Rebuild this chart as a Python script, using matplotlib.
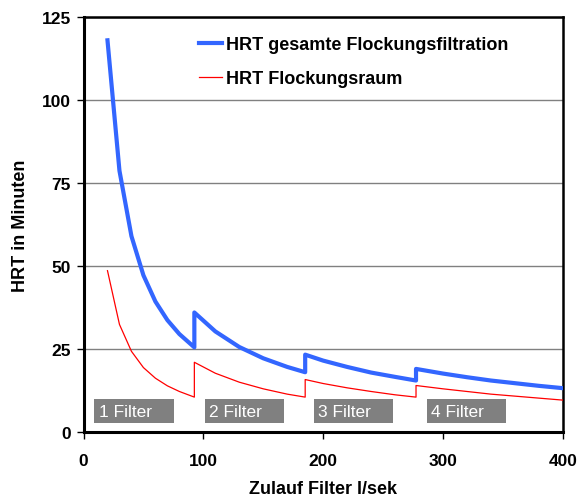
import matplotlib
matplotlib.use("Agg")
import matplotlib.pyplot as plt
from matplotlib.patches import Rectangle

plt.rcParams['font.family'] = ['Liberation Sans', 'DejaVu Sans']

# Zulauf (l/s) und HRT (min), je Filterstufe ein Abschnitt
zulauf = [20, 30, 40, 50, 60, 70, 80, 92.5,
          92.5, 110, 130, 150, 170, 185,
          185, 200, 220, 240, 260, 277.5,
          277.5, 300, 320, 340, 360, 380, 400]
hrt_gesamt = [118.0, 78.7, 59.0, 47.2, 39.3, 33.7, 29.5, 25.5,
              36.0, 30.3, 25.6, 22.2, 19.6, 18.0,
              23.3, 21.5, 19.6, 17.9, 16.6, 15.5,
              19.0, 17.6, 16.5, 15.5, 14.7, 13.9, 13.2]
hrt_flockung = [48.6, 32.4, 24.3, 19.4, 16.2, 13.9, 12.2, 10.5,
                21.0, 17.7, 15.0, 13.0, 11.4, 10.5,
                15.8, 14.6, 13.3, 12.2, 11.2, 10.5,
                14.0, 13.0, 12.2, 11.4, 10.8, 10.2, 9.6]

filter_labels = ['1 Filter', '2 Filter', '3 Filter', '4 Filter']
filter_x = [9.1, 101.4, 192.1, 286.9]

fig = plt.figure(figsize=(5.82, 5.02), dpi=100)
ax = fig.add_axes([0.1435, 0.1375, 0.8235, 0.8265])

ax.plot(zulauf, hrt_gesamt, color='#3366ff', lw=3.0,
        label='HRT gesamte Flockungsfiltration', zorder=3)
ax.plot(zulauf, hrt_flockung, color='#ff0000', lw=0.9,
        label='HRT Flockungsraum', zorder=3)

# graue Beschriftungsfelder fuer die Filterstufen
for lab, xl in zip(filter_labels, filter_x):
    ax.add_patch(Rectangle((xl, 2.6), 66, 7.3, fc='#808080', ec='none', zorder=4))
    ax.text(xl + 3.5, 6.1, lab, color='white', fontsize=12.5, ha='left', va='center',
            zorder=5)

ax.set_xlim(0, 400)
ax.set_ylim(0, 125)
ax.set_xticks([0, 100, 200, 300, 400])
ax.set_yticks([0, 25, 50, 75, 100, 125])
ax.yaxis.grid(True, color='#808080', lw=1.0)
ax.set_axisbelow(True)

for side in ['left', 'bottom']:
    ax.spines[side].set_linewidth(2.2)
for side in ['right', 'top']:
    ax.spines[side].set_linewidth(1.8)
ax.tick_params(axis='both', direction='out', length=5, width=1, labelsize=12.5, pad=4)
for t in ax.get_xticklabels() + ax.get_yticklabels():
    t.set_fontweight('bold')
ax.tick_params(axis='x', pad=10)

ax.set_xlabel('Zulauf Filter l/sek', fontsize=13, fontweight='bold', labelpad=9)
ax.set_ylabel('HRT in Minuten', fontsize=13, fontweight='bold', labelpad=9)

leg = ax.legend(loc='upper left', bbox_to_anchor=(0.208, 0.993), frameon=False,
                prop={'weight': 'bold', 'size': 13}, handlelength=1.27,
                handletextpad=0.18, labelspacing=0.95)

fig.savefig('out.png', dpi=100)
